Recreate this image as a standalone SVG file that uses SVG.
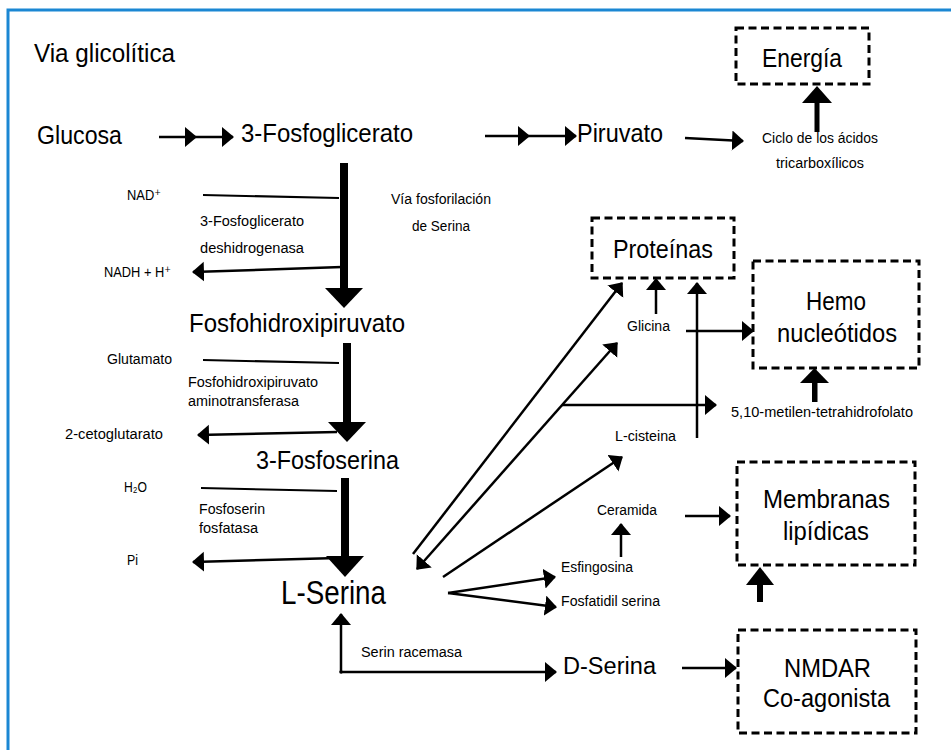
<svg xmlns="http://www.w3.org/2000/svg" width="951" height="750" viewBox="0 0 951 750">
<defs>
<style>
text{font-family:"Liberation Sans","DejaVu Sans",Arial,sans-serif;fill:#000}
.big{font-size:26px}
.box{font-size:25px}
.sm{font-size:15.5px}
.dash{fill:none;stroke:#000;stroke-width:3;stroke-dasharray:8 4.5}
.th{fill:none;stroke:#000;stroke-width:2}
.ar{fill:none;stroke:#000;stroke-width:2.5;marker-end:url(#ah)}
.thick{fill:#000;stroke:none}
</style>
<marker id="ah" markerUnits="userSpaceOnUse" markerWidth="14" markerHeight="22" refX="11" refY="10" orient="auto-start-reverse">
<path d="M0,0 L12,10 L0,20 z" fill="#000"/>
</marker>
</defs>
<rect x="0" y="0" width="951" height="750" fill="#fff"/>
<path d="M8,750 L8,10 L951,10" fill="none" stroke="#1b87d3" stroke-width="3"/>

<g id="title"><text class="big" x="34" y="62" textLength="141" lengthAdjust="spacingAndGlyphs">Via glicolítica</text></g>
<g id="glucosa"><text class="big" x="37" y="144" textLength="85" lengthAdjust="spacingAndGlyphs">Glucosa</text></g>
<g id="fosfoglicerato"><text class="big" x="241" y="142" textLength="172" lengthAdjust="spacingAndGlyphs">3-Fosfoglicerato</text></g>
<g id="piruvato"><text class="big" x="577" y="142" textLength="86" lengthAdjust="spacingAndGlyphs">Piruvato</text></g>
<g id="energia"><rect class="dash" x="736" y="28" width="133" height="56"/><text class="box" x="762" y="67" textLength="80" lengthAdjust="spacingAndGlyphs">Energía</text></g>
<g id="ciclo"><text class="sm" x="762" y="143" textLength="116" lengthAdjust="spacingAndGlyphs">Ciclo de los ácidos</text><text class="sm" x="776" y="168" textLength="88" lengthAdjust="spacingAndGlyphs">tricarboxílicos</text></g>
<g id="nad"><text class="sm" x="127" y="200" textLength="34" lengthAdjust="spacingAndGlyphs">NAD⁺</text></g>
<g id="enzima1"><text class="sm" x="200" y="226" textLength="104" lengthAdjust="spacingAndGlyphs">3-Fosfoglicerato</text><text class="sm" x="200" y="253" textLength="104" lengthAdjust="spacingAndGlyphs">deshidrogenasa</text></g>
<g id="via-fosforilacion"><text class="sm" x="391" y="204" textLength="100" lengthAdjust="spacingAndGlyphs">Vía fosforilación</text><text class="sm" x="412" y="231" textLength="58" lengthAdjust="spacingAndGlyphs">de Serina</text></g>
<g id="nadh"><text class="sm" x="104" y="277" textLength="67" lengthAdjust="spacingAndGlyphs">NADH + H⁺</text></g>
<g id="fosfohidroxipiruvato"><text class="big" x="189" y="332" textLength="216" lengthAdjust="spacingAndGlyphs">Fosfohidroxipiruvato</text></g>
<g id="glutamato"><text class="sm" x="107" y="364" textLength="65" lengthAdjust="spacingAndGlyphs">Glutamato</text></g>
<g id="enzima2"><text class="sm" x="188" y="387" textLength="130" lengthAdjust="spacingAndGlyphs">Fosfohidroxipiruvato</text><text class="sm" x="188" y="406" textLength="111" lengthAdjust="spacingAndGlyphs">aminotransferasa</text></g>
<g id="cetoglutarato"><text class="sm" x="65" y="439" textLength="98" lengthAdjust="spacingAndGlyphs">2-cetoglutarato</text></g>
<g id="fosfoserina"><text class="big" x="256" y="469" textLength="143" lengthAdjust="spacingAndGlyphs">3-Fosfoserina</text></g>
<g id="h2o"><text class="sm" x="124" y="492" textLength="23" lengthAdjust="spacingAndGlyphs">H₂O</text></g>
<g id="enzima3"><text class="sm" x="199" y="514" textLength="66" lengthAdjust="spacingAndGlyphs">Fosfoserin</text><text class="sm" x="199" y="533" textLength="59" lengthAdjust="spacingAndGlyphs">fosfatasa</text></g>
<g id="pi"><text class="sm" x="127" y="565" textLength="11" lengthAdjust="spacingAndGlyphs">Pi</text></g>
<g id="lserina"><text x="281" y="604" style="font-size:33px" textLength="105" lengthAdjust="spacingAndGlyphs">L-Serina</text></g>
<g id="serin-racemasa"><text class="sm" x="361" y="657" textLength="101" lengthAdjust="spacingAndGlyphs">Serin racemasa</text></g>
<g id="dserina"><text class="big" x="563" y="674" style="font-size:23px" textLength="93" lengthAdjust="spacingAndGlyphs">D-Serina</text></g>
<g id="nmdar"><rect class="dash" x="738" y="630" width="178" height="103"/><text class="box" x="784" y="677" textLength="87" lengthAdjust="spacingAndGlyphs">NMDAR</text><text class="box" x="763" y="707" textLength="127" lengthAdjust="spacingAndGlyphs">Co-agonista</text></g>
<g id="proteinas"><rect class="dash" x="592" y="218" width="142" height="60"/><text class="box" x="613" y="258" textLength="100" lengthAdjust="spacingAndGlyphs">Proteínas</text></g>
<g id="hemo"><rect class="dash" x="753" y="261" width="166" height="107"/><text class="box" x="806" y="310" textLength="60" lengthAdjust="spacingAndGlyphs">Hemo</text><text class="box" x="777" y="342" textLength="120" lengthAdjust="spacingAndGlyphs">nucleótidos</text></g>
<g id="glicina"><text class="sm" x="627" y="331" textLength="43" lengthAdjust="spacingAndGlyphs">Glicina</text></g>
<g id="metilen"><text class="sm" x="731" y="417" textLength="182" lengthAdjust="spacingAndGlyphs">5,10-metilen-tetrahidrofolato</text></g>
<g id="lcisteina"><text class="sm" x="615" y="441" textLength="61" lengthAdjust="spacingAndGlyphs">L-cisteina</text></g>
<g id="membranas"><rect class="dash" x="737" y="462" width="178" height="103"/><text class="box" x="763" y="508" textLength="127" lengthAdjust="spacingAndGlyphs">Membranas</text><text class="box" x="783" y="540" textLength="86" lengthAdjust="spacingAndGlyphs">lipídicas</text></g>
<g id="ceramida"><text class="sm" x="597" y="515" textLength="60" lengthAdjust="spacingAndGlyphs">Ceramida</text></g>
<g id="esfingosina"><text class="sm" x="561" y="572" textLength="72" lengthAdjust="spacingAndGlyphs">Esfingosina</text></g>
<g id="fosfatidil"><text class="sm" x="561" y="606" textLength="99" lengthAdjust="spacingAndGlyphs">Fosfatidil serina</text></g>

<g id="connectors">
<path class="ar" d="M159,137 L196,137 L233,137" marker-mid="url(#ah)"/>
<path class="ar" d="M485,136 L529,136 L576,136" marker-mid="url(#ah)"/>
<path class="ar" d="M685,138 L743,141"/>
<rect class="thick" x="814.5" y="102" width="5" height="30"/>
<polygon class="thick" points="802,103 832,103 817,86"/>
<rect class="thick" x="340" y="163" width="8" height="126"/>
<polygon class="thick" points="325,288 363,288 344,308"/>
<path class="th" d="M203,195 L339,198"/>
<path class="ar" d="M342,267 L193,272"/>
<rect class="thick" x="343" y="343" width="8" height="80"/>
<polygon class="thick" points="328,422 366,422 347,442"/>
<path class="th" d="M203,360 L339,363"/>
<path class="ar" d="M337,432 L198,435"/>
<rect class="thick" x="341" y="478" width="8" height="79"/>
<polygon class="thick" points="326,556 364,556 345,577"/>
<path class="th" d="M201,488 L337,491"/>
<path class="ar" d="M338,558 L193,562"/>
<path class="ar" d="M413,554 L622,283"/>
<path class="ar" d="M417,569 L617,343" marker-start="url(#ah)"/>
<path class="ar" d="M562,405 L716,405"/>
<path class="ar" d="M443,577 L622,457"/>
<path class="ar" d="M656,314 L656,279"/>
<path class="ar" d="M686,331 L753,331"/>
<path class="ar" d="M697,438 L697,283"/>
<rect class="thick" x="812" y="382" width="5.5" height="20"/>
<polygon class="thick" points="800,383 829,383 814.5,368"/>
<path class="ar" d="M685,516 L730,516"/>
<path class="ar" d="M621,557 L621,524"/>
<path class="ar" d="M448,593 L555,577"/>
<path class="ar" d="M448,593 L556,607"/>
<rect class="thick" x="757" y="584" width="6" height="18"/>
<polygon class="thick" points="746,585 774,585 760,567"/>
<path class="ar" d="M341,672 L341,614"/>
<path class="ar" d="M341,672 L556,672"/>
<circle cx="341" cy="672" r="1.8" fill="#000"/>
<path class="ar" d="M682,668 L736,668"/>
</g>
</svg>
